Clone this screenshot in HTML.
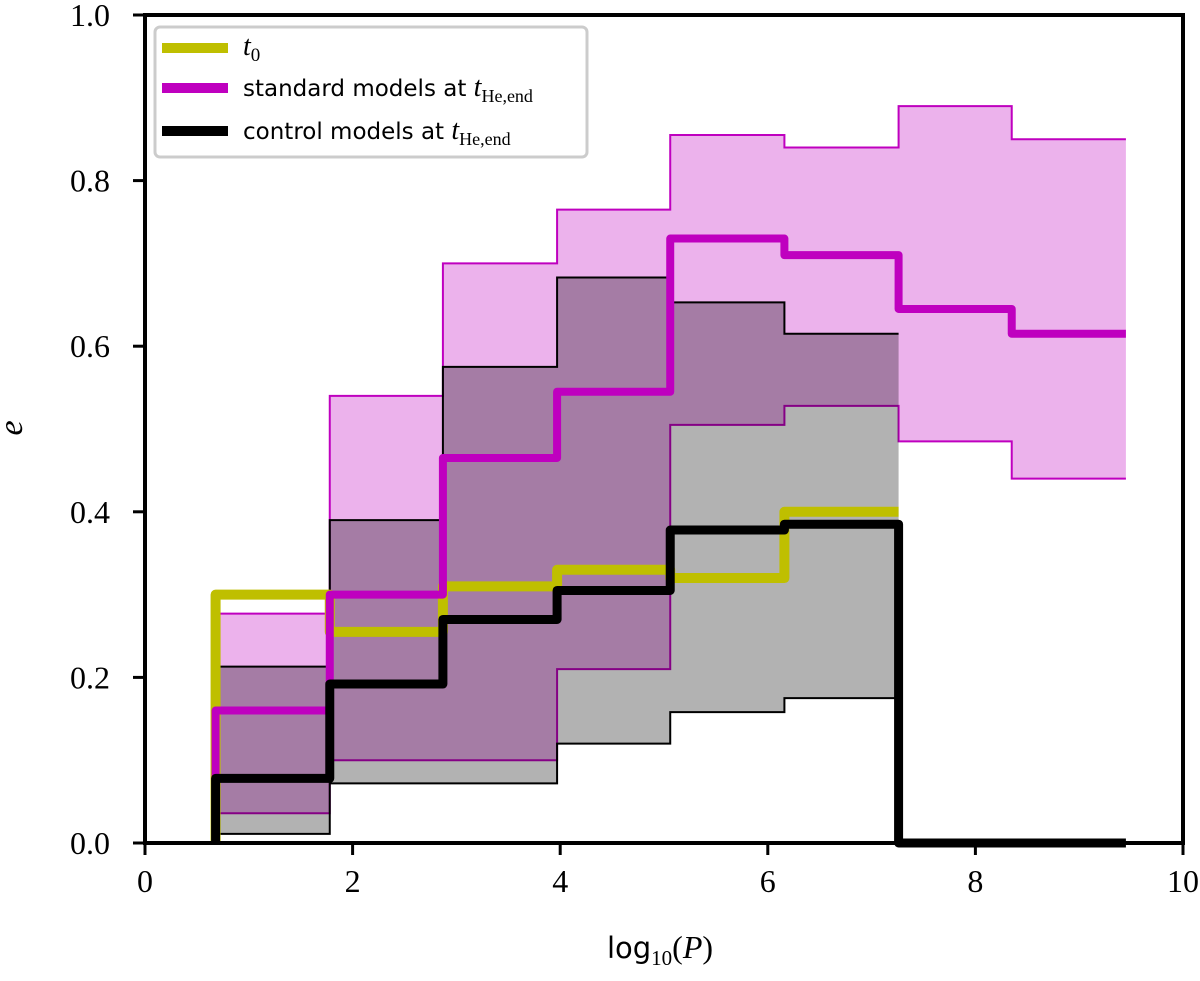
<!DOCTYPE html>
<html><head><meta charset="utf-8"><style>
body{margin:0;background:#fff;}
svg text{font-family:"Liberation Serif",serif;}
</style></head><body>
<svg width="1200" height="976" viewBox="0 0 1200 976" xmlns="http://www.w3.org/2000/svg">
<g id="plot"></g>
<g id="axes"></g>
<g>
<rect x="155" y="27" width="432" height="130" rx="5" fill="#fff" fill-opacity="0.85" stroke="#ccc" stroke-width="3"/>
<rect x="162" y="43" width="66" height="10" fill="#bfbf00"/>
<text x="243" y="55" font-size="28" font-style="italic">t<tspan font-size="19" font-style="normal" dy="6">0</tspan></text>
<rect x="162" y="83" width="66" height="10" fill="#bf00bf"/>
<text x="243" y="96" font-size="23" style="font-family:'DejaVu Sans',sans-serif">standard models at <tspan style="font-family:'Liberation Serif',serif;font-style:italic" font-size="28">t</tspan><tspan style="font-family:'Liberation Serif',serif" font-size="18" dy="6">He,end</tspan></text>
<rect x="162" y="126" width="66" height="10" fill="#000"/>
<text x="243" y="139" font-size="23" style="font-family:'DejaVu Sans',sans-serif">control models at <tspan style="font-family:'Liberation Serif',serif;font-style:italic" font-size="28">t</tspan><tspan style="font-family:'Liberation Serif',serif" font-size="18" dy="6">He,end</tspan></text>
</g>
<text x="660" y="958" font-size="32" text-anchor="middle"><tspan style="font-family:'DejaVu Sans',sans-serif" font-size="29">log</tspan><tspan font-size="21" dy="7">10</tspan><tspan dy="-7">(</tspan><tspan font-style="italic">P</tspan>)</text>
<text x="18" y="440" font-size="34" font-style="italic" text-anchor="middle" transform="rotate(-90 14 432)">e</text>
</svg>
<script>
const edges=[0.68,1.78,2.87,3.97,5.06,6.16,7.26,8.35,9.45];
const stdMed=[0.16,0.30,0.465,0.545,0.73,0.71,0.645,0.615];
const stdUp=[0.277,0.54,0.70,0.765,0.855,0.84,0.89,0.85];
const stdLo=[0.036,0.10,0.10,0.21,0.505,0.528,0.485,0.44];
const ctlMed=[0.078,0.192,0.27,0.305,0.378,0.385,0,0];
const ctlUp=[0.213,0.39,0.575,0.683,0.653,0.615];
const ctlLo=[0.011,0.072,0.072,0.12,0.158,0.175];
const t0=[0.30,0.255,0.31,0.33,0.32,0.40];
const xTicks=[0,2,4,6,8,10];
const yTicks=[0,0.2,0.4,0.6,0.8,1.0];
const X=v=>145+v*103.8, Y=v=>843-v*828;
const NS='http://www.w3.org/2000/svg';
const plot=document.getElementById('plot'), axes=document.getElementById('axes');
function mk(tag,attrs,parent){const e=document.createElementNS(NS,tag);for(const k in attrs)e.setAttribute(k,attrs[k]);parent.appendChild(e);return e;}
function stepPts(vals){let p=[];vals.forEach((v,i)=>{p.push([X(edges[i]),Y(v)],[X(edges[i+1]),Y(v)]);});return p;}
function band(up,lo,fill,op,stroke,name){
  const u=stepPts(up), l=stepPts(lo).reverse();
  const pts=u.concat(l).map(p=>p.join(',')).join(' ');
  const e=mk('polygon',{points:pts,fill:fill,'fill-opacity':op,stroke:'none'},plot);
  
  
  const a=mk('polyline',{points:u.map(p=>p.join(',')).join(' '),fill:'none',stroke:stroke,'stroke-width':2},plot);
  
  
  const b=mk('polyline',{points:stepPts(lo).map(p=>p.join(',')).join(' '),fill:'none',stroke:stroke,'stroke-width':2},plot);
  
  
}
band(stdUp,stdLo,'#bf00bf',0.3,'#bf00bf','standard-band');
band(ctlUp,ctlLo,'#000',0.3,'#000','control-band');
function line(vals,color,w,name){
  let p=[[X(edges[0]),Y(0)]].concat(stepPts(vals));
  const e=mk('polyline',{points:p.map(q=>q.join(',')).join(' '),fill:'none',stroke:color,'stroke-width':w,'stroke-linejoin':'round'},plot);
  
  
}
line(t0,'#bfbf00',10,'t0-line');
line(stdMed,'#bf00bf',8,'standard-median-line');
line(ctlMed,'#000',9,'control-median-line');
const fr=mk('rect',{x:145,y:15,width:1038,height:828,fill:'none',stroke:'#000','stroke-width':4},axes);


xTicks.forEach(t=>{
  const l=mk('line',{x1:X(t),x2:X(t),y1:843,y2:855,stroke:'#000','stroke-width':3},axes);
  
  
  const s=mk('text',{x:X(t),y:892,'font-size':32,'text-anchor':'middle'},axes);
  s.textContent=t;
  
  
});
yTicks.forEach(t=>{
  const l=mk('line',{x1:133,x2:145,y1:Y(t),y2:Y(t),stroke:'#000','stroke-width':3},axes);
  
  
  const s=mk('text',{x:110,y:Y(t)+11,'font-size':32,'text-anchor':'end'},axes);
  s.textContent=t.toFixed(1);
  
  
});
</script>
</body></html>
